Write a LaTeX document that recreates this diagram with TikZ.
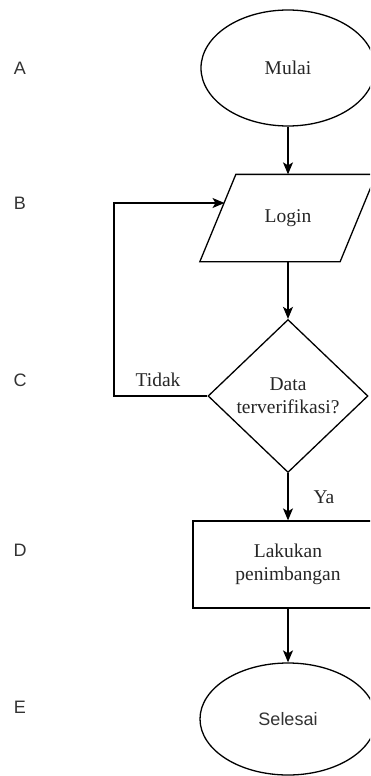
\documentclass[tikz,border=0pt]{standalone}
\usepackage{fontspec}
\setmainfont{Liberation Serif}
\newfontfamily\lettersans{Liberation Sans}
\usetikzlibrary{shapes.geometric,arrows.meta,calc}
\begin{document}
\begin{tikzpicture}[x=1pt,y=-1pt,
  line width=1.3pt,
  txt/.style={font=\fontsize{19.5}{23}\selectfont, text=black!85, align=center},
  sanstxt/.style={font=\lettersans\fontsize{18}{21}\selectfont, text=black!80},
  shapebox/.style={draw, txt, inner sep=0pt},
  arr/.style={-{Stealth[length=12pt,width=10pt,inset=3pt]}}]
\useasboundingbox (0,0) rectangle (370,776);
\clip (0,0) rectangle (370,776);
\fill[white] (0,0) rectangle (370,776);

% row letters
\node[sanstxt] (la) at (20,68) {A};
\node[sanstxt] (lb) at (20,203) {B};
\node[sanstxt] (lc) at (20,380) {C};
\node[sanstxt] (ld) at (20,550) {D};
\node[sanstxt] (le) at (20,707) {E};

% start
\node[shapebox, ellipse, minimum width=174pt, minimum height=116pt] (mulai) at (288,68) {Mulai};

% login parallelogram (drawn around an invisible box)
\node[txt, minimum width=175pt, minimum height=86pt, inner sep=0pt] (login) at (288,218) {Login};
\draw (login.south west) -- ([xshift=-36pt]login.south east) -- (login.north east) -- ([xshift=36pt]login.north west) -- cycle;
\coordinate (loginL) at (224.5,203);

% decision
\node[shapebox, diamond, minimum width=160pt, minimum height=153pt] (dec) at (288,396) {Data\\terverifikasi?};

% process
\node[shapebox, rectangle, minimum width=190pt, minimum height=87pt] (proc) at (288,564.5) {Lakukan\\penimbangan};

% end
\node[draw, ellipse, sanstxt, minimum width=176pt, minimum height=112pt, inner sep=0pt] (selesai) at (288,719) {Selesai};

% connectors
\draw[arr] (mulai) -- (login);
\draw[arr] (login) -- (dec);
\draw[arr] (dec) -- (proc);
\draw[arr] (proc) -- (selesai);
\draw[arr] (dec.west) -- (114,396) |- (loginL);

% labels
\node[txt] (tidak) at (158,380) {Tidak};
\node[txt] (ya) at (324,497) {Ya};
\end{tikzpicture}
\end{document}
